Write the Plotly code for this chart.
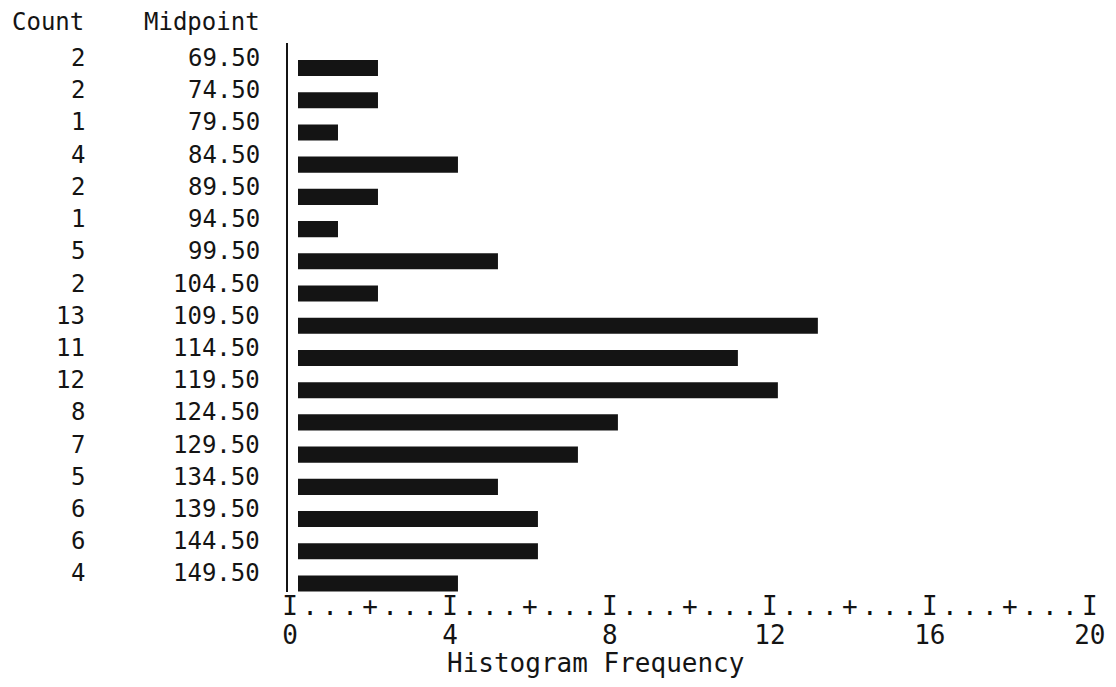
import plotly.graph_objects as go

# ---- data ----
midpoints = [69.5, 74.5, 79.5, 84.5, 89.5, 94.5, 99.5, 104.5, 109.5,
             114.5, 119.5, 124.5, 129.5, 134.5, 139.5, 144.5, 149.5]
counts = [2, 2, 1, 4, 2, 1, 5, 2, 13, 11, 12, 8, 7, 5, 6, 6, 4]
freq_tick_values = [0, 4, 8, 12, 16, 20]
freq_minor_values = [2, 6, 10, 14, 18]
axis_title = "Histogram Frequency"
header_count = "Count"
header_mid = "Midpoint"

FONT = "DejaVu Sans Mono"
INK = "#141414"

rows = list(range(len(midpoints)))

fig = go.Figure()
fig.add_trace(go.Bar(
    x=counts, y=rows, orientation="h", base=0,
    width=0.5, marker=dict(color=INK, line=dict(width=0)),
    hovertemplate="Midpoint %{customdata:.2f}: %{x}<extra></extra>",
    customdata=midpoints,
))


def big(s):
    return f"<span style='font-size:26px'>{s}</span>"


# character-style frequency axis: I at major, + at minor, . in between
tickvals, ticktext = [], []
for i in range(int(freq_tick_values[-1] * 2) + 1):
    v = i / 2
    tickvals.append(v)
    if v in freq_tick_values:
        ticktext.append(big("I") + "<br>" + big(str(int(v))))
    elif v in freq_minor_values:
        ticktext.append(big("+"))
    else:
        ticktext.append(big("."))

annotations = []
for r, (m, c) in enumerate(zip(midpoints, counts)):
    annotations.append(dict(x=-0.032, xref="paper", y=r, yref="y",
                            text=f"{m:.2f}", showarrow=False, xanchor="right",
                            yanchor="middle", yshift=10,
                            font=dict(family=FONT, size=24, color=INK)))
    annotations.append(dict(x=-0.248, xref="paper", y=r, yref="y",
                            text=str(c), showarrow=False, xanchor="right",
                            yanchor="middle", yshift=10,
                            font=dict(family=FONT, size=24, color=INK)))
annotations.append(dict(x=-0.343, xref="paper", y=1.038, yref="paper", text=header_count,
                        showarrow=False, xanchor="left", yanchor="middle",
                        font=dict(family=FONT, size=24, color=INK)))
annotations.append(dict(x=-0.032, xref="paper", y=1.038, yref="paper", text=header_mid,
                        showarrow=False, xanchor="right", yanchor="middle",
                        font=dict(family=FONT, size=24, color=INK)))
annotations.append(dict(x=0.380, xref="paper", y=-0.13, yref="paper", text=axis_title,
                        showarrow=False, xanchor="center", yanchor="middle",
                        font=dict(family=FONT, size=26, color=INK)))

fig.update_layout(
    width=1100, height=671,
    margin=dict(l=280, r=10, t=35, b=87, autoexpand=False),
    paper_bgcolor="white", plot_bgcolor="white",
    showlegend=False,
    xaxis=dict(range=[-0.25, 20.005], tickvals=tickvals, ticktext=ticktext,
               showgrid=False, zeroline=False, showline=False, ticks="", ticklen=0,
               tickangle=0, ticklabeloverflow="allow", automargin=False,
               ticklabelshift=-8,
               tickfont=dict(family=FONT, size=22, color=INK), fixedrange=True),
    yaxis=dict(range=[16.264, -0.776], showgrid=False, zeroline=False,
               showline=True, linecolor=INK, linewidth=2, ticks="",
               showticklabels=False, fixedrange=True, automargin=False),
    annotations=annotations,
)

fig.write_html("out.html")
